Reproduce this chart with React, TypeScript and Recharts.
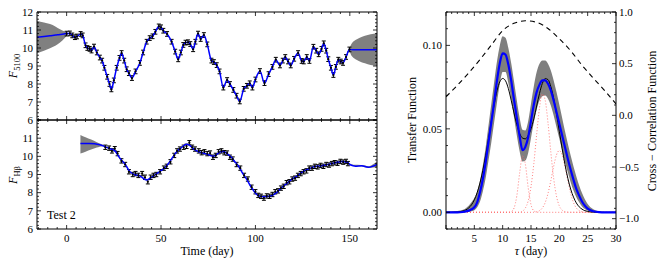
import React from 'react'
import { ComposedChart, Line, Area, Scatter, ErrorBar, XAxis, YAxis } from 'recharts'

// ---- continuum light curve (top left) ----
const CONT_DAY = [
  0, 1.7, 3, 4.4, 5.5, 7.4, 8.5, 10, 11, 12.2,
  13.2, 14.5, 16, 17.6, 18.8, 20, 21.5, 22.7, 23.7, 25,
  26.5, 28, 29.1, 30.5, 31.8, 33, 34.6, 36.5, 38.8, 40.5,
  42.4, 44, 45.5, 47, 48.8, 50, 51.2, 53.2, 55.6, 57.5,
  59.1, 60.5, 61.8, 63, 64.3, 65.5, 67, 68.2, 69.6, 71,
  72.7, 74.5, 76.7, 78, 79.5, 81, 83, 85, 86.5, 88.3,
  90, 91.7, 93.8, 95.5, 97, 98.4, 100, 102.4, 104.8, 107,
  109, 110.8, 113, 114.5, 115.8, 117.3, 118.7, 120.5, 122.6, 124.5,
  125.6, 127.2, 128.6, 130.7, 132.2, 133.5, 135, 136.2, 137.5, 138.6,
  140, 141.3, 142.6, 143.9, 145.2, 146.4, 148, 149.8,
]
const CONT_FLUX = [
  10.8, 10.81, 10.7, 10.6, 10.64, 10.78, 10.7, 10.15, 10.0, 9.95,
  9.86, 10.08, 9.75, 9.47, 9.3, 8.9, 8.4, 8.0, 7.7, 8.2,
  8.9, 9.45, 9.72, 9.3, 8.82, 8.6, 8.33, 8.7, 9.17, 9.75,
  10.35, 10.55, 10.65, 10.9, 11.2, 11.15, 10.96, 10.78, 10.35, 9.8,
  9.37, 9.75, 10.17, 10.3, 10.32, 10.22, 9.93, 10.35, 10.8, 10.5,
  10.72, 10.2, 9.3, 9.22, 9.05, 8.7, 7.8, 8.22, 8.0, 7.67,
  7.35, 7.03, 7.73, 7.9, 8.04, 7.8, 8.25, 8.72, 8.05, 8.55,
  8.95, 9.35, 9.03, 9.3, 9.5, 9.25, 9.03, 9.4, 9.72, 9.28,
  9.25, 9.5, 9.28, 10.07, 9.85, 9.65, 9.95, 10.26, 9.85, 9.38,
  8.9, 8.5, 8.95, 9.35, 9.25, 9.17, 9.5, 9.92,
]
const CONT_ERR = 0.13
const CONT_PRE_DAY = [-15.7, -12, -8.8, -6, -3.5, -1.5]
const CONT_PRE_FLUX = [10.6, 10.64, 10.68, 10.72, 10.75, 10.78]
const CONT_POST_DAY = [152, 164.4]
const CONT_POST_FLUX = [9.9, 9.9]
const CONT_BAND_L_DAY = [-15.7, -12, -8.8, -6, -3.5, -1, 0.7]
const CONT_BAND_L_LO = [9.7, 9.85, 9.98, 10.12, 10.3, 10.55, 10.76]
const CONT_BAND_L_HI = [11.52, 11.42, 11.33, 11.2, 11.04, 10.92, 10.84]
const CONT_BAND_R_DAY = [149.8, 150.5, 151.5, 153, 155, 158, 161, 164.4]
const CONT_BAND_R_LO = [9.89, 9.65, 9.5, 9.38, 9.27, 9.15, 9.06, 9.0]
const CONT_BAND_R_HI = [9.95, 10.15, 10.32, 10.45, 10.56, 10.68, 10.76, 10.82]

// ---- H-beta light curve (bottom left) ----
const HB_DAY = [
  20.5, 22.5, 24, 25.5, 27, 29, 31, 33, 35, 36.5,
  38, 40, 41.5, 43, 44.5, 46, 47.5, 49.5, 51.5, 53,
  55, 57, 58.5, 60, 62, 63.5, 65, 66.5, 68, 70,
  71.5, 73, 74.5, 76, 77.5, 79, 80.5, 82, 83.5, 85,
  86.5, 88, 90, 92, 94, 96, 98, 100, 101.5, 103,
  104.5, 106, 107.5, 109, 110.5, 112, 113.5, 115, 116.5, 118,
  119.5, 121, 122.5, 124, 125.5, 127, 128.5, 130, 131.5, 133,
  134.5, 136, 137.5, 139, 140.5, 142, 143.5, 145, 146.5, 148,
  149,
]
const HB_FLUX = [
  10.5, 10.45, 10.3, 10.42, 10.15, 9.75, 9.55, 9.15, 9.0, 9.05,
  8.95, 9.05, 8.85, 8.6, 8.85, 8.95, 9.0, 9.15, 9.35, 9.45,
  9.7, 10.05, 10.3, 10.4, 10.5, 10.55, 10.75, 10.5, 10.4, 10.3,
  10.2, 10.25, 10.15, 10.18, 9.95, 10.05, 10.25, 10.3, 10.2, 10.18,
  9.95, 9.85, 9.55, 9.35, 8.95, 8.75, 8.3, 8.05, 7.85, 7.8,
  7.7, 7.82, 7.8, 7.9, 8.05, 8.1, 8.25, 8.35, 8.55, 8.6,
  8.75, 8.8, 8.95, 9.05, 9.15, 9.2, 9.35, 9.35, 9.45, 9.42,
  9.5, 9.45, 9.55, 9.52, 9.6, 9.65, 9.62, 9.72, 9.68, 9.72,
  9.6,
]
const HB_ERR = 0.12
const HB_MODEL_DAY = [
  7.3, 12, 17.6, 20, 23, 25.6, 28.2, 30.9, 33.5, 36,
  38.8, 42.4, 45, 47.7, 50.5, 53, 56.5, 58.5, 61, 63.5,
  65, 67.1, 70, 72.4, 75, 77.6, 79.5, 81.5, 83, 85,
  87.4, 89, 91, 93, 95.4, 97.5, 99.8, 102, 104.2, 107,
  109.5, 112, 113.9, 116.5, 119.2, 121.8, 124.5, 127, 129.8, 132.5,
  135.1, 137.5, 140.4, 143, 145.7, 148.5, 150.5, 153, 156.3, 159.8,
  162, 164.4,
]
const HB_MODEL_FLUX = [
  10.7, 10.7, 10.64, 10.55, 10.42, 10.3, 9.9, 9.58, 9.15, 9.0,
  8.92, 8.7, 8.85, 9.05, 9.25, 9.48, 10.0, 10.28, 10.5, 10.66,
  10.62, 10.42, 10.25, 10.18, 10.1, 10.0, 10.1, 10.25, 10.26, 10.15,
  9.93, 9.72, 9.47, 9.1, 8.73, 8.35, 8.0, 7.82, 7.78, 7.8,
  7.88, 8.08, 8.27, 8.5, 8.73, 8.9, 9.1, 9.25, 9.38, 9.45,
  9.48, 9.53, 9.6, 9.66, 9.71, 9.68, 9.52, 9.46, 9.48, 9.4,
  9.45, 9.56,
]
const HB_BAND_L_DAY = [7.3, 10, 13, 16, 19, 21]
const HB_BAND_L_LO = [10.15, 10.25, 10.37, 10.48, 10.56, 10.48]
const HB_BAND_L_HI = [11.18, 11.05, 10.92, 10.78, 10.65, 10.54]
const HB_BAND_R_DAY = [148.5, 152, 156, 160, 162.5, 164.4]
const HB_BAND_R_LO = [9.66, 9.47, 9.44, 9.36, 9.38, 9.4]
const HB_BAND_R_HI = [9.7, 9.53, 9.52, 9.46, 9.58, 9.72]

// ---- transfer function (right) ----
const TAU = [
  0, 1, 2, 3, 4, 4.5, 5, 5.5, 6, 6.5,
  7, 7.5, 8, 8.5, 9, 9.5, 10, 10.5, 11, 11.5,
  12, 12.5, 13, 13.5, 14, 14.5, 15, 15.5, 16, 16.5,
  17, 17.5, 18, 18.5, 19, 19.5, 20, 20.5, 21, 21.5,
  22, 22.5, 23, 23.5, 24, 24.5, 25, 26, 27, 28,
  29, 30,
]
const TF_TRUE = [
  0, 0, 0.0002, 0.0008, 0.0026, 0.0045, 0.0075, 0.0118, 0.0176, 0.0251,
  0.0342, 0.0443, 0.0548, 0.0646, 0.0728, 0.0782, 0.0802, 0.0788, 0.0742, 0.0672,
  0.0595, 0.0525, 0.0472, 0.0445, 0.044, 0.046, 0.05, 0.056, 0.0637, 0.0712,
  0.0772, 0.0801, 0.0795, 0.0753, 0.0682, 0.0589, 0.0485, 0.0381, 0.0286, 0.0204,
  0.0139, 0.0091, 0.0056, 0.0033, 0.0019, 0.001, 0.0005, 0.0001, 0, 0,
  0, 0,
]
const TF_MODEL = [
  0, 0, 0, 0.0002, 0.001, 0.0018, 0.003, 0.006, 0.012, 0.02,
  0.03, 0.042, 0.054, 0.066, 0.079, 0.0895, 0.0952, 0.0945, 0.0885, 0.079,
  0.0675, 0.0565, 0.0455, 0.0372, 0.0392, 0.045, 0.0548, 0.0645, 0.072, 0.0765,
  0.079, 0.079, 0.077, 0.073, 0.067, 0.06, 0.053, 0.046, 0.039, 0.032,
  0.0255, 0.0195, 0.014, 0.01, 0.0065, 0.004, 0.0022, 0.0006, 0.0001, 0,
  0, 0,
]
const TF_LO = [
  0, 0, 0, 0, 0.0002, 0.0006, 0.0012, 0.003, 0.0065, 0.0125,
  0.0205, 0.031, 0.042, 0.054, 0.066, 0.077, 0.084, 0.084, 0.0775, 0.068,
  0.057, 0.046, 0.0365, 0.0305, 0.031, 0.0355, 0.0445, 0.054, 0.0615, 0.067,
  0.0695, 0.07, 0.068, 0.064, 0.058, 0.051, 0.044, 0.037, 0.03, 0.024,
  0.018, 0.013, 0.009, 0.006, 0.0035, 0.002, 0.001, 0.0002, 0, 0,
  0, 0,
]
const TF_HI = [
  0.0004, 0.0005, 0.0008, 0.0015, 0.004, 0.006, 0.0085, 0.0125, 0.019, 0.028,
  0.039, 0.052, 0.065, 0.078, 0.0905, 0.1, 0.1055, 0.1045, 0.0985, 0.0895,
  0.0785, 0.067, 0.0565, 0.0495, 0.049, 0.0545, 0.065, 0.0755, 0.084, 0.089,
  0.091, 0.091, 0.089, 0.085, 0.079, 0.072, 0.0645, 0.0565, 0.0485, 0.041,
  0.034, 0.0275, 0.0215, 0.016, 0.0115, 0.0078, 0.005, 0.0018, 0.0006, 0.0002,
  0.0001, 0,
]
const COMP_A = [
  0, 0, 0, 0, 0, 0, 0, 0, 0, 0,
  0, 0, 0, 0, 0, 0, 0, 0, 0, 0.0004,
  0.0025, 0.0099, 0.0236, 0.0337, 0.0289, 0.0149, 0.0046, 0.0009, 0.0001, 0,
  0, 0, 0, 0, 0, 0, 0, 0, 0, 0,
  0, 0, 0, 0, 0, 0, 0, 0, 0, 0,
  0, 0,
]
const COMP_B = [
  0, 0, 0, 0, 0, 0, 0, 0, 0, 0,
  0, 0, 0, 0, 0, 0, 0, 0, 0, 0,
  0, 0, 0, 0.0007, 0.0025, 0.0068, 0.0154, 0.0292, 0.0467, 0.0626,
  0.0708, 0.0672, 0.0536, 0.036, 0.0203, 0.0096, 0.0038, 0.0013, 0.0004, 0.0001,
  0, 0, 0, 0, 0, 0, 0, 0, 0, 0,
  0, 0,
]
const COMP_C = [
  0, 0, 0, 0, 0, 0, 0, 0, 0, 0,
  0, 0, 0, 0, 0, 0, 0, 0, 0, 0,
  0, 0, 0, 0, 0, 0, 0, 0, 0.0003, 0.001,
  0.0026, 0.0058, 0.0113, 0.019, 0.0275, 0.0344, 0.037, 0.0344, 0.0275, 0.019,
  0.0113, 0.0058, 0.0026, 0.001, 0.0003, 0, 0, 0, 0, 0,
  0, 0,
]
const CCF_TAU = [0, 2, 4, 6, 8, 10, 12, 14, 16, 18, 20, 22, 24, 26, 28, 30]
const CCF = [0.18, 0.29, 0.41, 0.54, 0.68, 0.82, 0.89, 0.915, 0.9, 0.84, 0.74, 0.625, 0.485, 0.36, 0.24, 0.11]

// ---- axes ----
const T_DOMAIN: [number, number] = [-15.7, 164.4]
const T_MAJOR = [0, 50, 100, 150]
const F_MAJOR = [6, 7, 8, 9, 10, 11, 12]
const F_LABELS_BOTTOM = [6, 7, 8, 9, 10, 11]
const TAU_MAJOR = [0, 5, 10, 15, 20, 25, 30]
const TAU_LABELS = [5, 10, 15, 20, 25, 30]
const TF_MAJOR = [0, 0.05, 0.1]
const CCF_MAJOR = [-1, -0.5, 0, 0.5, 1]

const SERIF = 'Liberation Serif, Times New Roman, DejaVu Serif, serif'

function steps(lo: number, hi: number, step: number) {
  const out: number[] = []
  for (let i = 0; lo + i * step <= hi + 1e-9; i++) out.push(+(lo + i * step).toFixed(4))
  return out
}
const T_TICKS = steps(-15, 160, 5)
const F_TICKS = steps(6, 12, 0.2)
const TAU_TICKS = steps(0, 30, 1)
const TF_TICKS = steps(-0.01, 0.12, 0.01)
const CCF_TICKS = steps(-1.1, 1.0, 0.1)

type Side = 'left' | 'right' | 'top' | 'bottom'
const near = (arr: number[], v: number) => arr.some(m => Math.abs(m - v) < 1e-6)

// ticks point inwards (matplotlib style); (x, y) arrives on the axis line itself
function makeTick(side: Side, majors: number[], labels: number[] = [], fmt: (v: number) => string = v => String(v)) {
  return (props: any) => {
    const { x, y, payload } = props
    const v = Number(payload.value)
    const len = near(majors, v) ? 4 : 2
    const d = { bottom: [0, -len], top: [0, len], left: [len, 0], right: [-len, 0] }[side]
    let label = null
    if (near(labels, v)) {
      const t = fmt(v)
      const st = { fontFamily: SERIF, fontSize: 11, fill: '#000' }
      if (side === 'bottom') label = <text x={x} y={y + 13} textAnchor="middle" style={st}>{t}</text>
      if (side === 'left') label = <text x={x - 4} y={y + 3.8} textAnchor="end" style={st}>{t}</text>
      if (side === 'right') label = <text x={x + 3} y={y + 3.8} textAnchor="start" style={st}>{t}</text>
    }
    return (
      <g>
        <path d={`M${x},${y}L${x + d[0]},${y + d[1]}`} stroke="#000" strokeWidth={0.8} fill="none" />
        {label}
      </g>
    )
  }
}

const axisBase = {
  type: 'number' as const,
  allowDataOverflow: true,
  tickSize: 0,
  tickMargin: 0,
  tickLine: false,
  interval: 0 as const,
  axisLine: { stroke: '#000', strokeWidth: 1 },
}

const minus = (s: string) => s.replace('-', '\u2212')

const pts = (xs: number[], ys: number[], err?: number) => xs.map((x, i) => ({ x, y: ys[i], err }))
const band = (xs: number[], lo: number[], hi: number[]) => xs.map((x, i) => ({ x, band: [lo[i], hi[i]] }))

const contData = pts(CONT_DAY, CONT_FLUX, CONT_ERR)
const contModel = pts([...CONT_PRE_DAY, ...CONT_DAY, ...CONT_POST_DAY], [...CONT_PRE_FLUX, ...CONT_FLUX, ...CONT_POST_FLUX])
const contBandL = band(CONT_BAND_L_DAY, CONT_BAND_L_LO, CONT_BAND_L_HI)
const contBandR = band(CONT_BAND_R_DAY, CONT_BAND_R_LO, CONT_BAND_R_HI)

const hbData = pts(HB_DAY, HB_FLUX, HB_ERR)
const hbModel = pts(HB_MODEL_DAY, HB_MODEL_FLUX)
const hbBandL = band(HB_BAND_L_DAY, HB_BAND_L_LO, HB_BAND_L_HI)
const hbBandR = band(HB_BAND_R_DAY, HB_BAND_R_LO, HB_BAND_R_HI)

const tfData = TAU.map((x, i) => ({
  x, truth: TF_TRUE[i], model: TF_MODEL[i], band: [TF_LO[i], TF_HI[i]],
  a: COMP_A[i], b: COMP_B[i], c: COMP_C[i],
}))
const ccfData = pts(CCF_TAU, CCF)

const dotShape = (p: any) => <circle cx={p.cx} cy={p.cy} r={1.1} fill="#000" />

function LightPanel({ data, model, bandL, bandR, labels, bottomLabels, height, margin }: any) {
  return (
    <ComposedChart width={400} height={height} margin={margin}>
      <XAxis {...axisBase} dataKey="x" domain={T_DOMAIN} ticks={T_TICKS} height={1}
        tick={makeTick('bottom', T_MAJOR, bottomLabels)} />
      <XAxis {...axisBase} xAxisId="t" orientation="top" dataKey="x" domain={T_DOMAIN} ticks={T_TICKS} height={1}
        tick={makeTick('top', T_MAJOR)} />
      <YAxis {...axisBase} domain={[6, 12]} ticks={F_TICKS} width={37} tick={makeTick('left', F_MAJOR, labels)} />
      <YAxis {...axisBase} yAxisId="r" orientation="right" domain={[6, 12]} ticks={F_TICKS} width={1}
        tick={makeTick('right', F_MAJOR)} />
      <Area data={bandL} dataKey="band" type="monotone" fill="#808080" fillOpacity={1} stroke="none" isAnimationActive={false} />
      <Area data={bandR} dataKey="band" type="monotone" fill="#808080" fillOpacity={1} stroke="none" isAnimationActive={false} />
      <Scatter data={data} dataKey="y" shape={dotShape} isAnimationActive={false}>
        <ErrorBar dataKey="err" direction="y" width={2} stroke="#000" strokeWidth={1} isAnimationActive={false} />
      </Scatter>
      <Line data={model} dataKey="y" type="monotone" stroke="#0000ff" strokeWidth={1.5} dot={false}
        activeDot={false} isAnimationActive={false} />
    </ComposedChart>
  )
}

export default function App() {
  return (
    <div style={{ position: 'absolute', left: 0, top: 0, width: 664, height: 267, background: '#fff' }}>
      <div style={{ position: 'absolute', left: 0, top: 0 }}>
        <LightPanel data={contData} model={contModel} bandL={contBandL} bandR={contBandR}
          labels={F_MAJOR} bottomLabels={[]} height={130} margin={{ top: 11, right: 22, bottom: 9, left: 0 }} />
      </div>
      <div style={{ position: 'absolute', left: 0, top: 110 }}>
        <LightPanel data={hbData} model={hbModel} bandL={hbBandL} bandR={hbBandR}
          labels={F_LABELS_BOTTOM} bottomLabels={T_MAJOR} height={157} margin={{ top: 9, right: 22, bottom: 37, left: 0 }} />
      </div>
      <div style={{ position: 'absolute', left: 380, top: 0 }}>
        <ComposedChart width={284} height={267} data={tfData} margin={{ top: 11, right: 47, bottom: 37, left: 0 }}>
          <XAxis {...axisBase} dataKey="x" domain={[0, 30]} ticks={TAU_TICKS} height={1}
            tick={makeTick('bottom', TAU_MAJOR, TAU_LABELS)} />
          <XAxis {...axisBase} xAxisId="t" orientation="top" dataKey="x" domain={[0, 30]} ticks={TAU_TICKS} height={1}
            tick={makeTick('top', TAU_MAJOR)} />
          <YAxis {...axisBase} domain={[-0.01, 0.12]} ticks={TF_TICKS} width={66}
            tick={makeTick('left', TF_MAJOR, TF_MAJOR, v => v.toFixed(2))} />
          <YAxis {...axisBase} yAxisId="ccf" orientation="right" domain={[-1.1, 1.0]} ticks={CCF_TICKS} width={1}
            tick={makeTick('right', CCF_MAJOR, CCF_MAJOR, v => minus(v.toFixed(1)))} />
          <Area dataKey="band" type="monotone" fill="#7f7f7f" fillOpacity={1} stroke="none" isAnimationActive={false} />
          {['a', 'b', 'c'].map(k => (
            <Line key={k} dataKey={k} type="monotone" stroke="#ff7070" strokeWidth={0.9} strokeDasharray="1 2"
              dot={false} activeDot={false} isAnimationActive={false} />
          ))}
          <Line dataKey="truth" type="monotone" stroke="#000" strokeWidth={1} dot={false} activeDot={false} isAnimationActive={false} />
          <Line dataKey="model" type="monotone" stroke="#0000ff" strokeWidth={2.2} dot={false} activeDot={false} isAnimationActive={false} />
          <Line data={ccfData} yAxisId="ccf" dataKey="y" type="monotone" stroke="#000" strokeWidth={1.1}
            strokeDasharray="5 4" dot={false} activeDot={false} isAnimationActive={false} />
        </ComposedChart>
      </div>
      <svg width={664} height={267} style={{ position: 'absolute', left: 0, top: 0, pointerEvents: 'none', fontFamily: SERIF }}
        fontSize={12} fill="#000">
        <text transform="translate(16.5,66) rotate(-90)" textAnchor="middle">
          <tspan fontStyle="italic">F</tspan>
          <tspan fontSize={8.5} dy={3}>5100</tspan>
        </text>
        <text transform="translate(16.5,175) rotate(-90)" textAnchor="middle">
          <tspan fontStyle="italic">F</tspan>
          <tspan fontSize={8.5} dy={3}>Hβ</tspan>
        </text>
        <text x={47} y={219}>Test 2</text>
        <text x={207} y={255} textAnchor="middle">Time (day)</text>
        <text x={531} y={255} textAnchor="middle"><tspan fontStyle="italic">τ</tspan> (day)</text>
        <text transform="translate(416,120) rotate(-90)" textAnchor="middle">Transfer Function</text>
        <text transform="translate(656,121) rotate(-90)" textAnchor="middle">Cross − Correlation Function</text>
      </svg>
    </div>
  )
}
